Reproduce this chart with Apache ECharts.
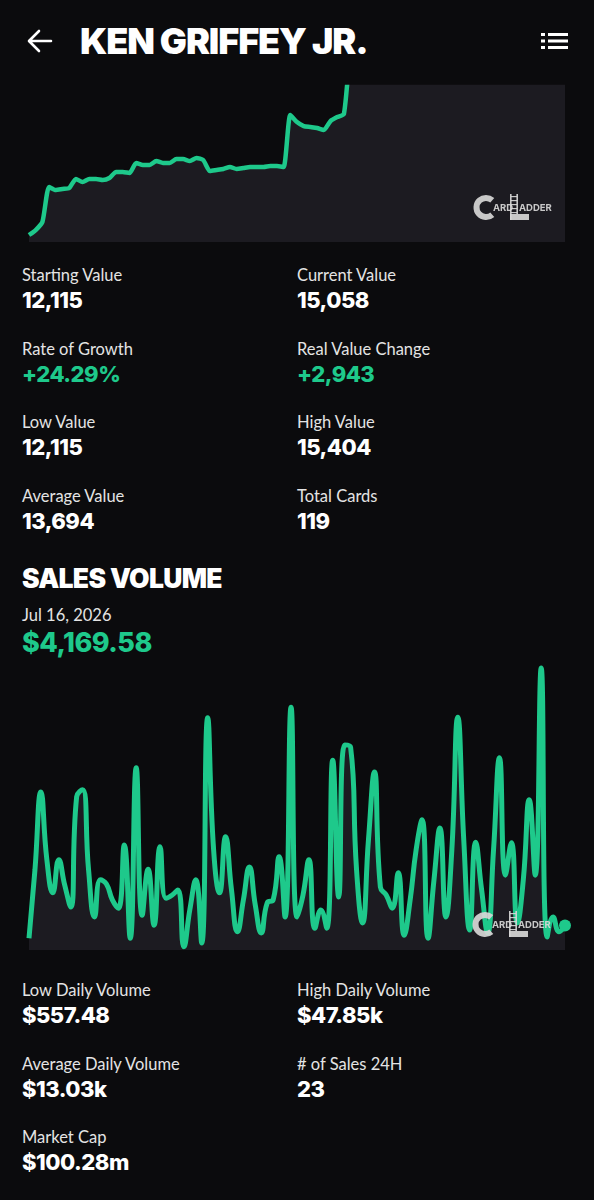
<!DOCTYPE html>
<html>
<head>
<meta charset="utf-8">
<script src="https://cdn.jsdelivr.net/npm/echarts@6/dist/echarts.min.js"></script>
<style>
    body { margin: 0; background: #0b0b0d; }
    #page { position: relative; width: 594px; height: 1200px; overflow: hidden; background: #0b0b0d; color: #fff; }
    .title { position: absolute; left: 80px; top: 19px; font-family: Inter; font-weight: 900; font-size: 36px; line-height: 44px; letter-spacing: -1.1px; white-space: nowrap; }
    .h2 { position: absolute; left: 22px; top: 563px; font-family: Inter; font-weight: 900; font-size: 26.5px; line-height: 30px; letter-spacing: -0.7px; }
    .lbl { position: absolute; font-family: Lato; font-size: 16.5px; line-height: 20px; color: #e4e4e4; white-space: nowrap; }
    .val { position: absolute; font-family: Inter; font-weight: 800; font-size: 22px; line-height: 26px; letter-spacing: -0.5px; color: #fff; white-space: nowrap; }
    .green { color: #1ec98b; }
    #trend { position: absolute; left: 0; top: 80px; width: 594px; height: 170px; }
    #volume { position: absolute; left: 0; top: 650px; width: 594px; height: 310px; }
</style>
</head>
<body>
<div id="page">
    <svg style="position:absolute;left:26px;top:28px" width="28" height="26" viewBox="0 0 28 26">
        <path d="M25 13 H4 M13 3 L3 13 L13 23" stroke="#fff" stroke-width="2.6" fill="none" stroke-linecap="round" stroke-linejoin="round"/>
    </svg>
    <div class="title">KEN GRIFFEY JR.</div>
    <svg style="position:absolute;left:540px;top:32px" width="30" height="18" viewBox="0 0 30 18">
        <rect x="1" y="1" width="4" height="3" fill="#fff"/><rect x="8" y="1" width="20" height="3" fill="#fff"/>
        <rect x="1" y="7.5" width="4" height="3" fill="#fff"/><rect x="8" y="7.5" width="20" height="3" fill="#fff"/>
        <rect x="1" y="14" width="4" height="3" fill="#fff"/><rect x="8" y="14" width="20" height="3" fill="#fff"/>
    </svg>

    <div id="trend"></div>
    <div id="stats1"></div>

    <div class="h2">SALES VOLUME</div>
    <div class="lbl" style="left:22px;top:605px">Jul 16, 2026</div>
    <div class="val green" style="left:22px;top:628px;font-size:27px;line-height:30px">$4,169.58</div>

    <div id="volume"></div>
    <div id="stats2"></div>
</div>

<script>
// 卡片指数走势 (后半段超出可视范围)
var trendValues = [
    12115, 12197, 12329, 12905, 12855, 12872, 12888, 13036, 12987, 13036,
    13036, 13020, 13053, 13152, 13152, 13135, 13300, 13267, 13267, 13332,
    13300, 13300, 13365, 13365, 13332, 13382, 13349, 13168, 13184, 13201,
    13234, 13201, 13217, 13234, 13234, 13234, 13250, 13250, 13234, 14089,
    13974, 13908, 13892, 13875, 13842, 13990, 14056, 14106, 15120, 15184,
    15162, 15230, 15275, 15248, 15310, 15356, 15404, 15372, 15320, 15288,
    15301, 15264, 15229, 15242, 15195, 15210, 15176, 15133, 15150, 15108,
    15096, 15121, 15087, 15064, 15079, 15042, 15055, 15031, 15048, 15070,
    15058
];

// 每日成交额 (单位: 千美元)
var volumeValues = [
    2.0, 13.6, 26.8, 15.3, 9.7, 15.3, 11.0, 7.3, 26.0, 27.2,
    13.6, 5.6, 11.9, 11.2, 8.5, 7.1, 17.8, 2.0, 30.9, 5.9,
    13.7, 4.2, 17.5, 8.8, 9.3, 10.2, 0.56, 6.8, 11.9, 1.2,
    39.4, 17.0, 9.7, 19.2, 10.2, 3.1, 8.5, 14.1, 7.6, 2.9,
    8.0, 8.5, 15.8, 5.6, 41.2, 5.6, 9.3, 15.3, 3.7, 6.8,
    3.7, 32.2, 9.0, 34.8, 34.4, 13.6, 4.6, 18.7, 30.2, 10.7,
    9.3, 7.1, 13.1, 2.5, 8.5, 17.0, 22.1, 2.0, 11.9, 20.7,
    5.6, 17.0, 39.5, 18.7, 3.4, 18.3, 10.2, 2.9, 17.0, 32.6,
    12.7, 18.2, 4.6, 11.9, 25.5, 12.7, 47.85, 2.2, 5.6, 3.1,
    4.17
];

var stats1Labels = ['Starting Value', 'Current Value', 'Rate of Growth', 'Real Value Change', 'Low Value', 'High Value', 'Average Value', 'Total Cards'];
var stats1Values = ['12,115', '15,058', '+24.29%', '+2,943', '12,115', '15,404', '13,694', '119'];
var stats2Labels = ['Low Daily Volume', 'High Daily Volume', 'Average Daily Volume', '# of Sales 24H', 'Market Cap'];
var stats2Values = ['$557.48', '$47.85k', '$13.03k', '23', '$100.28m'];

// 横轴类目
var trendDays = [];
for (var i = 0; i < trendValues.length; i++) trendDays.push('D' + i);
var volumeDates = [];
var d0 = new Date(2026, 3, 17);
for (var j = 0; j < volumeValues.length; j++) {
    var d = new Date(d0.getFullYear(), d0.getMonth(), d0.getDate() + j);
    volumeDates.push(d.toLocaleDateString('en-US', { month: 'short', day: 'numeric', year: 'numeric' }));
}

// 统计信息两列
function renderStats(id, labels, values, firstY, greenIdx) {
    var box = document.getElementById(id);
    var html = '';
    for (var k = 0; k < labels.length; k++) {
        var x = k % 2 === 0 ? 22 : 297;
        var y = firstY + Math.floor(k / 2) * 73.5;
        html += '<div class="lbl" style="left:' + x + 'px;top:' + (y - 10) + 'px">' + labels[k] + '</div>';
        html += '<div class="val' + (greenIdx.indexOf(k) > -1 ? ' green' : '') + '" style="left:' + x + 'px;top:' + (y + 12) + 'px">' + values[k] + '</div>';
    }
    box.innerHTML = html;
}
renderStats('stats1', stats1Labels, stats1Values, 275, [2, 3]);
renderStats('stats2', stats2Labels, stats2Values, 990, []);

// CardLadder 水印
function logo(x0, y0) {
    var c = 'rgba(215,215,215,0.92)';
    var els = [
        { type: 'arc', shape: { cx: x0 + 12, cy: y0 + 13.5, r: 9.5, startAngle: Math.PI * 0.27, endAngle: Math.PI * 1.73, clockwise: true }, style: { stroke: c, lineWidth: 6, fill: 'none' } },
        { type: 'text', x: x0 + 19, y: y0 + 9, style: { text: 'ARD', fill: c, font: 'bold 9.5px Inter' } },
        { type: 'rect', shape: { x: x0 + 36, y: y0, width: 1.6, height: 26 }, style: { fill: c } },
        { type: 'rect', shape: { x: x0 + 42.4, y: y0, width: 1.6, height: 20 }, style: { fill: c } },
        { type: 'rect', shape: { x: x0 + 36, y: y0 + 20, width: 19, height: 6 }, style: { fill: c } },
        { type: 'text', x: x0 + 45, y: y0 + 9, style: { text: 'ADDER', fill: c, font: 'bold 9.5px Inter' } }
    ];
    for (var r = 0; r < 5; r++) {
        els.push({ type: 'rect', shape: { x: x0 + 37, y: y0 + 2 + r * 4, width: 6, height: 1.2 }, style: { fill: c } });
    }
    for (var e = 0; e < els.length; e++) els[e].z = 100;
    return els;
}

(function() {
    var myChart = echarts.init(document.getElementById('trend'));
    var option = {
        animation: false,
        grid: { left: 29, right: 29, top: 7, height: 155 },
        xAxis: { type: 'category', data: trendDays, boundaryGap: false, show: false },
        yAxis: { type: 'value', min: 12000, max: 14550, show: false },
        series: [{
            type: 'line',
            data: trendValues,
            smooth: 0.2,
            symbol: 'none',
            clip: true,
            lineStyle: { color: '#1ec98b', width: 4.5 },
            areaStyle: { color: '#1c1b21', opacity: 1 }
        }],
        graphic: { elements: logo(474, 114) }
    };
    myChart.setOption(option);
})();

(function() {
    var myChart = echarts.init(document.getElementById('volume'));
    var last = volumeValues.length - 1;
    var option = {
        animation: false,
        grid: { left: 29, right: 29, top: 10, height: 290 },
        xAxis: { type: 'category', data: volumeDates, boundaryGap: false, show: false },
        yAxis: { type: 'value', min: 0, max: 49.2, show: false },
        series: [{
            type: 'line',
            data: volumeValues,
            smooth: 0.5,
            symbol: 'circle',
            showAllSymbol: true,
            symbolSize: function(v, params) { return params.dataIndex === last ? 12 : 0; },
            itemStyle: { color: '#1ec98b' },
            lineStyle: { color: '#1ec98b', width: 5 },
            areaStyle: { color: '#1c1b21', opacity: 1 }
        }],
        graphic: { elements: logo(473, 261) }
    };
    myChart.setOption(option);
})();
</script>
</body>
</html>
